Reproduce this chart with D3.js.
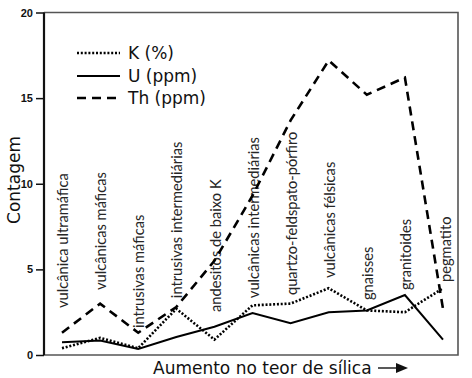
<!DOCTYPE html>
<meta charset="utf-8">
<style>
  body { margin: 0; background: #fff; }
  svg { display: block; }
  text { font-family: 'DejaVu Sans', sans-serif; fill: #111; }
  .tick-label { font-family: 'Liberation Sans', sans-serif; font-weight: bold; font-size: 11px; }
  .cat { font-family: 'Lato', sans-serif; font-size: 14.7px; fill: #262626; }
  .series { fill: none; stroke: #000; }
</style>
<script src="https://d3js.org/d3.v7.min.js"></script>
<svg width="472" height="378"></svg>
<script>
  // rock types, ordered by increasing silica
  var categories = ["vulcânica ultramáfica", "vulcânicas máficas", "intrusivas máficas",
    "intrusivas intermediárias", "andesitos de baixo K", "vulcânicas intermediárias",
    "quartzo-feldspato-pórfiro", "vulcânicas félsicas", "gnaisses", "granitoides", "pegmatito"];
  var kValues  = [0.4, 1.0, 0.4, 2.7, 0.9, 2.9, 3.0, 3.9, 2.6, 2.5, 3.9];
  var uValues  = [0.75, 0.85, 0.35, 1.05, 1.65, 2.45, 1.85, 2.5, 2.6, 3.5, 0.9];
  var thValues = [1.3, 3.0, 1.3, 2.8, 5.5, 9.3, 13.7, 17.2, 15.2, 16.2, 2.7];
  var yTicks = [0, 5, 10, 15, 20];

  var series = [
    { name: "K (%)", values: kValues, dash: "2,1.8", width: 2.6 },
    { name: "U (ppm)", values: uValues, dash: null, width: 2 },
    { name: "Th (ppm)", values: thValues, dash: "9,6", width: 2.6 }
  ];

  var svg = d3.select("svg");
  var plotL = 44, plotR = 458, plotT = 12.5, plotB = 355;

  var x = d3.scalePoint().domain(categories).range([62, 443]);
  var y = d3.scaleLinear().domain([0, 20]).range([plotB, plotT]);

  // frame
  svg.append("path")
    .attr("d", "M" + plotL + "," + plotT + "H" + plotR + "V" + plotB + "H" + plotL)
    .attr("fill", "none").attr("stroke", "#555").attr("stroke-width", 1.6);
  svg.append("line")
    .attr("x1", plotL).attr("x2", plotL).attr("y1", plotT).attr("y2", plotB)
    .attr("stroke", "#111").attr("stroke-width", 2.2);

  var axis = svg.append("g").attr("transform", "translate(" + plotL + ",0)")
    .call(d3.axisLeft(y).tickValues(yTicks).tickSize(8).tickPadding(3));
  axis.select(".domain").remove();
  axis.selectAll("line").attr("stroke", "#111").attr("stroke-width", 1.5);
  axis.selectAll("text").attr("class", "tick-label").attr("fill", "#111");

  // category labels, written upward above the curves
  var labelFrom = [2.74, 3.79, 1.57, 3.32, 2.51, 3.32, 3.5, 4.49, 3.21, 3.79, 4.26];
  svg.append("g").selectAll("text")
    .data(categories)
    .join("text")
    .attr("class", "cat")
    .attr("transform", function(d, i) {
      var cx = x(d) + (i == 10 ? 3 : 1);
      return "translate(" + cx + "," + y(labelFrom[i]) + ") rotate(-90)";
    })
    .attr("dy", "0.35em")
    .text(function(d) { return d; });

  var line = d3.line()
    .x(function(d, i) { return x(categories[i]); })
    .y(function(d) { return y(d); });

  svg.append("g").selectAll("path")
    .data(series)
    .join("path")
    .attr("class", "series")
    .attr("stroke-width", function(d) { return d.width; })
    .attr("stroke-dasharray", function(d) { return d.dash; })
    .attr("d", function(d) { return line(d.values); });

  // legend
  var legend = svg.append("g");
  var ly = [53, 76, 98];
  series.forEach(function(s, i) {
    legend.append("line")
      .attr("x1", 77).attr("x2", 120).attr("y1", ly[i]).attr("y2", ly[i])
      .attr("stroke", "#000").attr("stroke-width", s.width)
      .attr("stroke-dasharray", s.dash);
    legend.append("text")
      .attr("x", 128).attr("y", ly[i]).attr("dy", "0.36em")
      .style("font-size", "17px")
      .text(s.name);
  });

  // axis titles
  svg.append("text")
    .attr("transform", "translate(14,180) rotate(-90)")
    .attr("text-anchor", "middle").attr("dy", "0.35em")
    .style("font-size", "17px")
    .text("Contagem");

  svg.append("text")
    .attr("x", 153).attr("y", 374)
    .style("font-size", "17px")
    .text("Aumento no teor de sílica");
  svg.append("line")
    .attr("x1", 378).attr("x2", 398).attr("y1", 368).attr("y2", 368)
    .attr("stroke", "#222").attr("stroke-width", 1.5);
  svg.append("path")
    .attr("d", "M396,363 L408,368 L396,373 Z")
    .attr("fill", "#111");
</script>
